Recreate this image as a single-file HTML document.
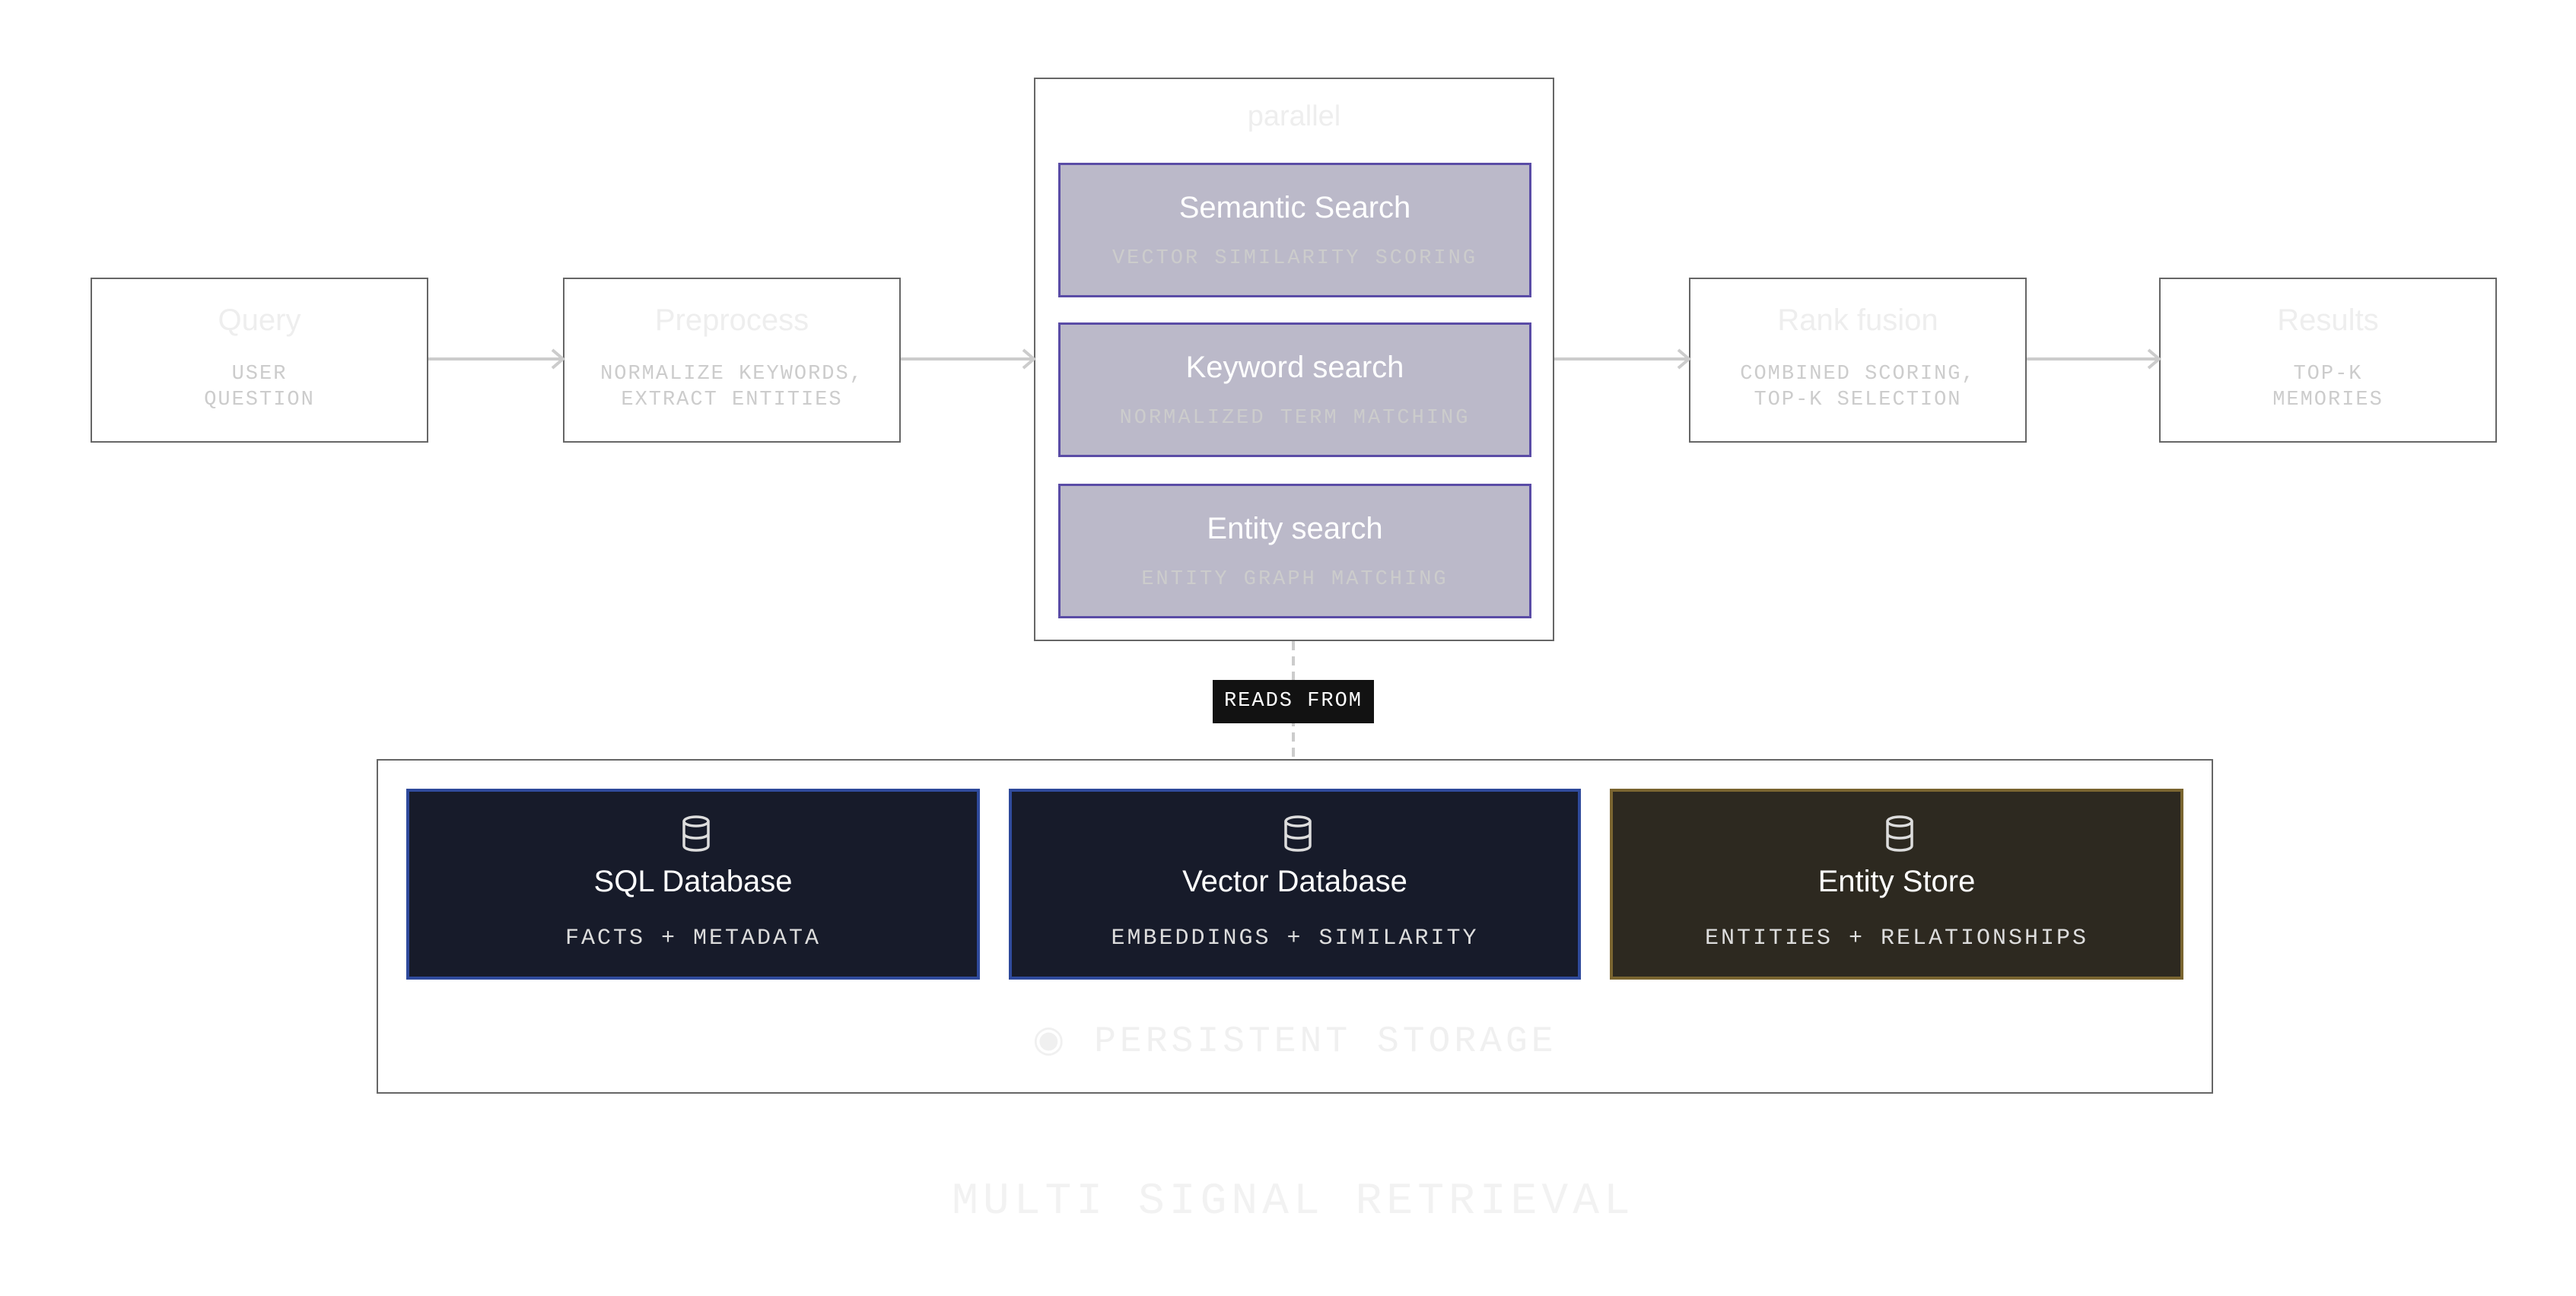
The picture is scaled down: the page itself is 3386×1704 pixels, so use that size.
<!DOCTYPE html>
<html><head><meta charset="utf-8"><style>
body{margin:0;width:3386px;height:1704px;background:#fff;position:relative;overflow:hidden;font-family:"Liberation Sans",sans-serif}
.a{position:absolute;box-sizing:border-box}
.node{border:2px solid #666;background:#fff;text-align:center}
.t{position:absolute;left:0;right:0;text-align:center;white-space:nowrap}
.mono{font-family:"Liberation Mono",monospace}
.inner{border:3px solid #5a4ca6;background:#bbb9c9}
.db{border:4px solid #2f4a9c;background:#171b2a}
</style></head><body>

<!-- pipeline nodes -->
<div class="a node" style="left:119px;top:365px;width:444px;height:217px">
 <div class="t" style="top:32px;font-size:40px;color:#eee">Query</div>
 <div class="t mono" style="top:108px;font-size:27px;line-height:34px;color:#ccc;letter-spacing:2px">USER<br>QUESTION</div>
</div>
<div class="a node" style="left:740px;top:365px;width:444px;height:217px">
 <div class="t" style="top:32px;font-size:40px;color:#eee">Preprocess</div>
 <div class="t mono" style="top:108px;font-size:27px;line-height:34px;color:#ccc;letter-spacing:2px">NORMALIZE KEYWORDS,<br>EXTRACT ENTITIES</div>
</div>
<div class="a node" style="left:2220px;top:365px;width:444px;height:217px">
 <div class="t" style="top:32px;font-size:40px;color:#eee">Rank fusion</div>
 <div class="t mono" style="top:108px;font-size:27px;line-height:34px;color:#ccc;letter-spacing:2px">COMBINED SCORING,<br>TOP-K SELECTION</div>
</div>
<div class="a node" style="left:2838px;top:365px;width:444px;height:217px">
 <div class="t" style="top:32px;font-size:40px;color:#eee">Results</div>
 <div class="t mono" style="top:108px;font-size:27px;line-height:34px;color:#ccc;letter-spacing:2px">TOP-K<br>MEMORIES</div>
</div>

<!-- parallel container -->
<div class="a node" style="left:1359px;top:102px;width:684px;height:741px">
 <div class="t" style="top:28px;font-size:38px;color:#eee">parallel</div>
</div>
<div class="a inner" style="left:1391px;top:214px;width:622px;height:177px">
 <div class="t" style="top:34px;font-size:40px;color:#fff">Semantic Search</div>
 <div class="t mono" style="top:108px;font-size:27px;color:#ccc;letter-spacing:3px">VECTOR SIMILARITY SCORING</div>
</div>
<div class="a inner" style="left:1391px;top:424px;width:622px;height:177px">
 <div class="t" style="top:34px;font-size:40px;color:#fff">Keyword search</div>
 <div class="t mono" style="top:108px;font-size:27px;color:#ccc;letter-spacing:3px">NORMALIZED TERM MATCHING</div>
</div>
<div class="a inner" style="left:1391px;top:636px;width:622px;height:177px">
 <div class="t" style="top:34px;font-size:40px;color:#fff">Entity search</div>
 <div class="t mono" style="top:108px;font-size:27px;color:#ccc;letter-spacing:3px">ENTITY GRAPH MATCHING</div>
</div>

<!-- connectors -->
<svg class="a" style="left:0;top:0" width="3386" height="1704">
 <g stroke="#ccc" stroke-width="4" fill="none">
  <line x1="563" y1="472" x2="740" y2="472"/><polyline points="726,460 740,472 726,484"/>
  <line x1="1184" y1="472" x2="1359" y2="472"/><polyline points="1345,460 1359,472 1345,484"/>
  <line x1="2043" y1="472" x2="2220" y2="472"/><polyline points="2206,460 2220,472 2206,484"/>
  <line x1="2664" y1="472" x2="2838" y2="472"/><polyline points="2824,460 2838,472 2824,484"/>
  <line x1="1700" y1="843" x2="1700" y2="998" stroke-dasharray="12,8"/>
 </g>
</svg>

<div class="a mono" style="left:1594px;top:894px;width:212px;height:57px;background:#121212;color:#fff;font-size:27px;line-height:57px;text-align:center;letter-spacing:2px">READS FROM</div>

<!-- storage -->
<div class="a node" style="left:495px;top:998px;width:2414px;height:440px;background:transparent"></div>

<div class="a db" style="left:534px;top:1037px;width:754px;height:251px">
 <svg class="a" style="left:357px;top:30px" width="40" height="50" viewBox="0 0 40 50"><g fill="none" stroke="#ddd" stroke-width="3.5"><ellipse cx="20" cy="9" rx="16" ry="6"/><path d="M4 9v32c0 3.5 7 6 16 6s16-2.5 16-6V9M4 25c0 3.5 7 6 16 6s16-2.5 16-6"/></g></svg>
 <div class="t" style="top:96px;font-size:40px;color:#fff">SQL Database</div>
 <div class="t mono" style="top:176px;font-size:30px;color:#ddd;letter-spacing:3px">FACTS + METADATA</div>
</div>
<div class="a db" style="left:1326px;top:1037px;width:752px;height:251px">
 <svg class="a" style="left:356px;top:30px" width="40" height="50" viewBox="0 0 40 50"><g fill="none" stroke="#ddd" stroke-width="3.5"><ellipse cx="20" cy="9" rx="16" ry="6"/><path d="M4 9v32c0 3.5 7 6 16 6s16-2.5 16-6V9M4 25c0 3.5 7 6 16 6s16-2.5 16-6"/></g></svg>
 <div class="t" style="top:96px;font-size:40px;color:#fff">Vector Database</div>
 <div class="t mono" style="top:176px;font-size:30px;color:#ddd;letter-spacing:3px">EMBEDDINGS + SIMILARITY</div>
</div>
<div class="a db" style="left:2116px;top:1037px;width:754px;height:251px;border-color:#7a6530;background:#2d2920">
 <svg class="a" style="left:357px;top:30px" width="40" height="50" viewBox="0 0 40 50"><g fill="none" stroke="#ddd" stroke-width="3.5"><ellipse cx="20" cy="9" rx="16" ry="6"/><path d="M4 9v32c0 3.5 7 6 16 6s16-2.5 16-6V9M4 25c0 3.5 7 6 16 6s16-2.5 16-6"/></g></svg>
 <div class="t" style="top:96px;font-size:40px;color:#fff">Entity Store</div>
 <div class="t mono" style="top:176px;font-size:30px;color:#ddd;letter-spacing:3px">ENTITIES + RELATIONSHIPS</div>
</div>

<div class="a mono" style="left:495px;width:2414px;top:1338px;text-align:center;font-size:48px;color:#f0f0f0;letter-spacing:5px">&#9673; PERSISTENT STORAGE</div>

<div class="a mono" style="left:0;width:3400px;top:1548px;text-align:center;font-size:58px;color:#f2f2f2;letter-spacing:6px">MULTI SIGNAL RETRIEVAL</div>

</body></html>
